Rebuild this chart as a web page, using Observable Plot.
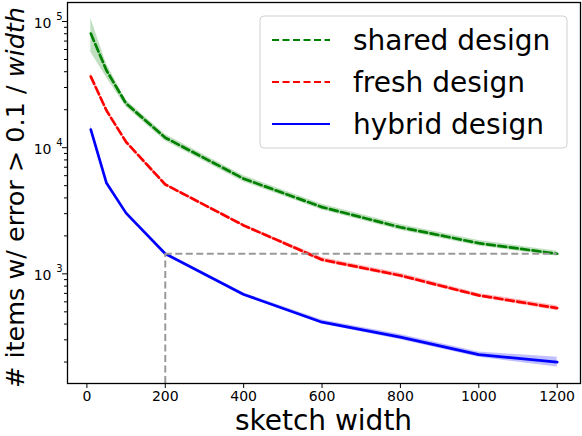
<!DOCTYPE html>
<html>
<head>
<meta charset="utf-8">
<script src="https://cdn.jsdelivr.net/npm/d3@7"></script>
<script src="https://cdn.jsdelivr.net/npm/@observablehq/plot@0.6"></script>
<style>
  html, body { margin: 0; padding: 0; background: white; }
  #chart { width: 582px; height: 436px; }
</style>
</head>
<body>
<div id="chart"></div>
<script>
// ---- data ----
const widths   = [10, 50, 100, 200, 400, 600, 800, 1000, 1200];
const shared   = [80300, 40900, 22400, 12000, 5680, 3380, 2340, 1750, 1443];
const sharedLo = [57000, 36000, 21000, 11300, 5350, 3200, 2220, 1660, 1380];
const sharedHi = [106000, 46000, 23800, 12700, 6000, 3560, 2460, 1840, 1510];
const fresh    = [36600, 19700, 11100, 5110, 2420, 1295, 970, 675, 535];
const freshLo  = [36000, 19300, 10900, 5000, 2370, 1240, 930, 650, 510];
const freshHi  = [38900, 20100, 11300, 5220, 2470, 1350, 1010, 700, 560];
const hybrid   = [13900, 5240, 3030, 1443, 687, 414, 315, 229, 200];
const hybridLo = [13400, 5100, 2950, 1410, 670, 400, 300, 218, 183];
const hybridHi = [15000, 5380, 3110, 1480, 705, 430, 330, 240, 218];

const seriesNames  = ["shared design", "fresh design", "hybrid design"];
const seriesColors = ["#008000", "#ff0000", "#0000ff"];
const seriesDash   = ["8,3.5", "8,3.5", null];
const seriesVals   = [shared, fresh, hybrid];
const seriesLo     = [sharedLo, freshLo, hybridLo];
const seriesHi     = [sharedHi, freshHi, hybridHi];

const xTicks      = [0, 200, 400, 600, 800, 1000, 1200];
const yMajorTicks = [1000, 10000, 100000];
const yMajorExp   = ["3", "4", "5"];
const yMinorTicks = [200,300,400,500,600,700,800,900,2000,3000,4000,5000,6000,7000,8000,9000,20000,30000,40000,50000,60000,70000,80000,90000];

const xLabel = "sketch width";
const yLabelMain = "# items w/ error > 0.1 / ";
const yLabelItalic = "width";

const refX = 200;
const yDomain = [135.2, 141500];

// build tables
const tables = seriesNames.map((name, s) => widths.map((w, i) => ({
  series: name, x: w, y: seriesVals[s][i], lo: seriesLo[s][i], hi: seriesHi[s][i]
})));

const refY = hybrid[widths.indexOf(refX)];
const refYEnd = shared[shared.length - 1];

const marks = [];
tables.forEach((t, s) => {
  marks.push(Plot.areaY(t, {x: "x", y1: "lo", y2: "hi", fill: seriesColors[s], fillOpacity: 0.25}));
});
tables.forEach((t, s) => {
  const opts = {x: "x", y: "y", stroke: seriesColors[s], strokeWidth: 2.7};
  if (seriesDash[s]) opts.strokeDasharray = seriesDash[s];
  marks.push(Plot.line(t, opts));
});
marks.push(Plot.ruleX([refX], {y1: yDomain[0], y2: refY, stroke: "#999", strokeWidth: 2, strokeDasharray: "7,3.5"}));
marks.push(Plot.ruleY([refYEnd], {x1: refX, x2: widths[widths.length - 1], stroke: "#999", strokeWidth: 2, strokeDasharray: "7,3.5"}));

marks.push(Plot.axisX({ticks: xTicks, tickSize: 5, tickPadding: 3, fontSize: 14, tickFormat: d3.format("d"), label: null}));
marks.push(Plot.axisY({ticks: yMajorTicks, tickSize: 5, tickFormat: () => "", label: null}));
marks.push(Plot.axisY({ticks: yMinorTicks, tickSize: 3, tickFormat: () => "", label: null}));
marks.push(Plot.text(yMajorTicks, {y: d => d, frameAnchor: "left", dx: -16, dy: 2, text: () => "10", textAnchor: "end", fontSize: 14}));
marks.push(Plot.text(yMajorTicks, {y: d => d, frameAnchor: "left", dx: -5, dy: -5, text: (d, i) => yMajorExp[i], textAnchor: "end", fontSize: 10}));
marks.push(Plot.frame({stroke: "black", strokeWidth: 1.3}));

const chart = Plot.plot({
  width: 582, height: 436,
  marginLeft: 67, marginRight: 2, marginTop: 2, marginBottom: 53,
  style: {fontFamily: "DejaVu Sans", fontSize: "14px", color: "black", background: "white", overflow: "visible"},
  x: {domain: [-49.5, 1259.5]},
  y: {type: "log", domain: yDomain},
  marks
});
document.getElementById("chart").appendChild(chart);

const svg = d3.select(chart);
// x label
svg.append("text")
  .attr("x", 323.5).attr("y", 430)
  .attr("text-anchor", "middle")
  .attr("font-family", "DejaVu Sans").attr("font-size", 28).attr("fill", "black")
  .text(xLabel);
// y label
const yl = svg.append("text")
  .attr("transform", "translate(24,388) rotate(-90)")
  .attr("text-anchor", "start")
  .attr("font-family", "DejaVu Sans").attr("font-size", 25.5).attr("fill", "black");
yl.append("tspan").text(yLabelMain);
yl.append("tspan").attr("font-style", "italic").text(yLabelItalic);

// legend
const lg = svg.append("g");
lg.append("rect").attr("x", 260).attr("y", 16).attr("width", 307).attr("height", 132)
  .attr("rx", 4).attr("fill", "white").attr("fill-opacity", 0.8)
  .attr("stroke", "#d0d0d0").attr("stroke-width", 1);
const rowY = [40, 82, 124];
seriesNames.forEach((name, s) => {
  const l = lg.append("line").attr("x1", 272).attr("x2", 330).attr("y1", rowY[s]).attr("y2", rowY[s])
    .attr("stroke", seriesColors[s]).attr("stroke-width", 2);
  if (seriesDash[s]) l.attr("stroke-dasharray", "7,3.5");
  lg.append("text").attr("x", 353).attr("y", rowY[s]).attr("dy", "0.35em")
    .attr("text-anchor", "start")
    .attr("font-family", "DejaVu Sans").attr("font-size", 28).attr("fill", "black")
    .text(name);
});
</script>
</body>
</html>
